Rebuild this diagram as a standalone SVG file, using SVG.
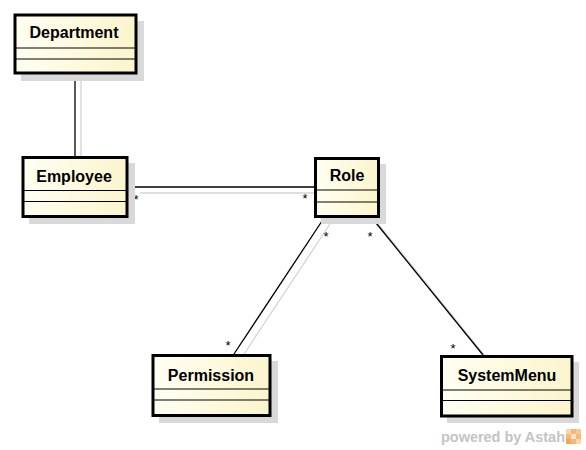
<svg xmlns="http://www.w3.org/2000/svg" width="586" height="450" viewBox="0 0 586 450">
<defs>
<linearGradient id="fill" x1="0" y1="0" x2="1" y2="0">
<stop offset="0" stop-color="#FFFFF2"/>
<stop offset="1" stop-color="#FBF5CC"/>
</linearGradient>
<style>
.shadow{fill:#d9d9d9;}
.box{fill:url(#fill);stroke:#000;stroke-width:3;}
.div{stroke:#000;stroke-width:1;}
.name{font-family:"Liberation Sans",Arial,sans-serif;font-weight:bold;font-size:16px;text-anchor:middle;fill:#000;}
.line{stroke:#000;stroke-width:1.3;fill:none;}
.lshadow{stroke:#d4d4d4;stroke-width:1.3;fill:none;}
.mult{font-family:"Liberation Sans",Arial,sans-serif;font-size:13px;text-anchor:middle;fill:#000;}
</style>
</defs>
<rect width="586" height="450" fill="#fff"/>
<g id="connectors">
<line class="lshadow" x1="81" y1="80" x2="81" y2="162"/>
<line class="lshadow" x1="140" y1="193" x2="320" y2="193"/>
<line class="lshadow" x1="330" y1="224" x2="240" y2="360"/>
<line class="lshadow" x1="378" y1="224" x2="489" y2="361"/>
<line class="line" x1="75" y1="74" x2="75" y2="156"/>
<line class="line" x1="128" y1="187" x2="314" y2="187"/>
<line class="line" x1="324" y1="218" x2="234" y2="354"/>
<line class="line" x1="372" y1="218" x2="483" y2="355"/>
<text class="mult" x="136" y="203.5">*</text>
<text class="mult" x="305" y="202.5">*</text>
<text class="mult" x="326" y="240.5">*</text>
<text class="mult" x="228" y="349.5">*</text>
<text class="mult" x="370" y="240.5">*</text>
<text class="mult" x="453" y="352.5">*</text>
</g>
<g id="Department">
<rect class="shadow" x="21" y="21" width="123" height="60"/>
<rect class="box" x="15" y="15" width="121" height="58"/>
<line class="div" x1="15" y1="48" x2="136" y2="48"/>
<line class="div" x1="15" y1="59" x2="136" y2="59"/>
<text class="name" x="74" y="38">Department</text>
</g>
<g id="Employee">
<rect class="shadow" x="29" y="163" width="106" height="61"/>
<rect class="box" x="23" y="157.5" width="104" height="59"/>
<line class="div" x1="23" y1="190.5" x2="127" y2="190.5"/>
<line class="div" x1="23" y1="201.5" x2="127" y2="201.5"/>
<text class="name" x="74" y="182">Employee</text>
</g>
<g id="Role">
<rect class="shadow" x="321" y="164" width="65" height="60"/>
<rect class="box" x="315.5" y="158.5" width="63" height="58"/>
<line class="div" x1="315.5" y1="190" x2="378.5" y2="190"/>
<line class="div" x1="315.5" y1="202" x2="378.5" y2="202"/>
<text class="name" x="347" y="181">Role</text>
</g>
<g id="Permission">
<rect class="shadow" x="159" y="361" width="119" height="62"/>
<rect class="box" x="153" y="355.5" width="117" height="60"/>
<line class="div" x1="153" y1="389" x2="270" y2="389"/>
<line class="div" x1="153" y1="400" x2="270" y2="400"/>
<text class="name" x="211" y="380.5">Permission</text>
</g>
<g id="SystemMenu">
<rect class="shadow" x="447" y="362" width="132" height="61"/>
<rect class="box" x="441.5" y="356.5" width="130.5" height="59.5"/>
<line class="div" x1="441.5" y1="390" x2="572" y2="390"/>
<line class="div" x1="441.5" y1="400.5" x2="572" y2="400.5"/>
<text class="name" x="507" y="380.5">SystemMenu</text>
</g>
<g id="watermark">
<text x="441" y="442" font-family="'Liberation Sans',Arial,sans-serif" font-weight="bold" font-size="14" fill="#c4c4c4" textLength="124" lengthAdjust="spacingAndGlyphs">powered by Astah</text>
<rect x="566" y="429" width="15" height="15" fill="#f5b878"/>
<rect x="566" y="429" width="5" height="5" fill="#fbd7a8"/>
<rect x="576" y="429" width="5" height="5" fill="#f9c88e"/>
<rect x="571" y="434" width="5" height="5" fill="#fde6c6"/>
<rect x="566" y="439" width="5" height="5" fill="#f3a65e"/>
<rect x="576" y="439" width="5" height="5" fill="#fbd7a8"/>
</g>
</svg>
